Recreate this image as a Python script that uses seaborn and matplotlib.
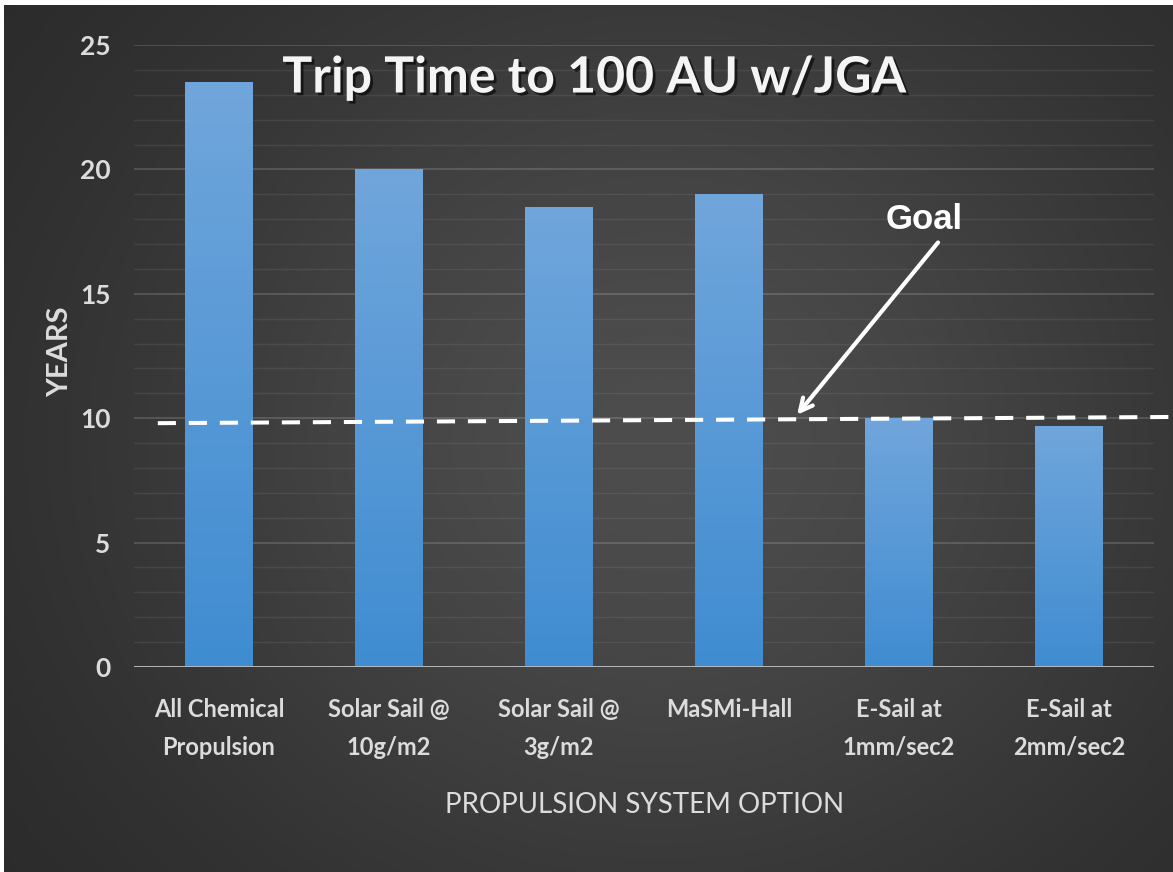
import numpy as np
import pandas as pd
import matplotlib
matplotlib.use("Agg")
import matplotlib.pyplot as plt
import matplotlib.patheffects as pe
import seaborn as sns

# data
options = ["All Chemical\nPropulsion", "Solar Sail @\n10g/m2", "Solar Sail @\n3g/m2",
           "MaSMi-Hall", "E-Sail at\n1mm/sec2", "E-Sail at\n2mm/sec2"]
years = [23.5, 20.0, 18.5, 19.0, 10.0, 9.7]
y_ticks = [0, 5, 10, 15, 20, 25]
goal_x = [-0.36, 5.61]
goal_y = [9.8, 10.05]
goal_arrow_from = (4.24, 17.15)
goal_arrow_to = (3.39, 10.05)
goal_label_pos = (4.15, 18.0)

df = pd.DataFrame({"option": options, "years": years})

W, H = 1173, 872
fig = plt.figure(figsize=(W / 100, H / 100), dpi=100, facecolor="white")

# dark radial background
bg = fig.add_axes([4 / W, 0, 1 - 4 / W, 1 - 5 / H])
gx, gy = np.meshgrid(np.linspace(0, 1, 400), np.linspace(0, 1, 300))
glow = np.exp(-((gx - 0.56) / 0.5) ** 2 - ((gy - 0.5) / 0.6) ** 2)
shade = 0.15 + 0.15 * glow
bg.imshow(np.dstack([shade, shade, shade]), extent=[0, 1, 0, 1], aspect="auto", origin="lower")
bg.set_axis_off()

ax = fig.add_axes([134 / W, 205 / H, 1020 / W, 622 / H])
ax.set_facecolor("none")

sns.barplot(data=df, x="option", y="years", ax=ax, color="#5b9bd5", width=0.4,
            saturation=1, zorder=3)

# vertical gradient inside each bar
grad = np.linspace(0, 1, 100).reshape(-1, 1)
top_c = np.array([0.44, 0.65, 0.86])
bot_c = np.array([0.25, 0.55, 0.82])
grad_img = bot_c + (top_c - bot_c) * grad[..., None] * np.ones((1, 2, 1))
for p in ax.patches:
    x0, w, h = p.get_x(), p.get_width(), p.get_height()
    im = ax.imshow(grad_img, extent=[x0, x0 + w, 0, h], origin="lower", aspect="auto", zorder=3.5)
    im.set_clip_path(p)

ax.set_xlim(-0.5, 5.5)
ax.set_ylim(0, 25)
ax.set_yticks(y_ticks)
ax.set_yticks(np.arange(0, 26, 1), minor=True)
ax.grid(axis="y", which="major", color="white", alpha=0.16, lw=1.3, zorder=0)
ax.grid(axis="y", which="minor", color="white", alpha=0.07, lw=1.0, zorder=0)
ax.grid(axis="x", visible=False)
for s in ax.spines.values():
    s.set_visible(False)
ax.axhline(0, color="#bfbfbf", lw=2, zorder=4)

ax.tick_params(axis="both", which="both", length=0)
ax.tick_params(axis="y", pad=17, labelsize=19, labelcolor="#dcdcdc")
ax.tick_params(axis="x", pad=22, labelsize=17, labelcolor="#dcdcdc")
for lab in ax.get_yticklabels() + ax.get_xticklabels():
    lab.set_family("Lato")
    lab.set_weight("bold")
for lab in ax.get_xticklabels():
    lab.set_linespacing(1.8)

ax.set_xlabel("")
ax.set_ylabel("")
fig.text(60 / W, 1 - 352 / H, "YEARS", rotation=90, ha="center", va="center",
         fontsize=21, fontweight="bold", color="#dcdcdc", family="Lato")
fig.text(645 / W, 1 - 805 / H, "PROPULSION SYSTEM OPTION", ha="center", va="center",
         fontsize=20, color="#dcdcdc", family="Lato")

# title with soft shadow
fig.text(594 / W, 1 - 78 / H, "Trip Time to 100 AU w/JGA", ha="center", va="center",
         fontsize=36, fontweight="bold", color="#f4f4f4", family="Lato",
         path_effects=[pe.withSimplePatchShadow(offset=(2, -2), shadow_rgbFace="black", alpha=0.6)])

# goal line and arrow
ax.plot(goal_x, goal_y, color="white", lw=2.9, dashes=(4.5, 3.2), clip_on=False, zorder=5)
ax.annotate("", xy=goal_arrow_to, xytext=goal_arrow_from,
            arrowprops=dict(arrowstyle="->,head_length=0.9,head_width=0.45", color="white", lw=3),
            zorder=6)
ax.text(goal_label_pos[0], goal_label_pos[1], "Goal", ha="center", va="center",
        fontsize=25, fontweight="bold", color="white", family="Liberation Sans", zorder=6)

fig.savefig("out.png", dpi=100, facecolor="white")
